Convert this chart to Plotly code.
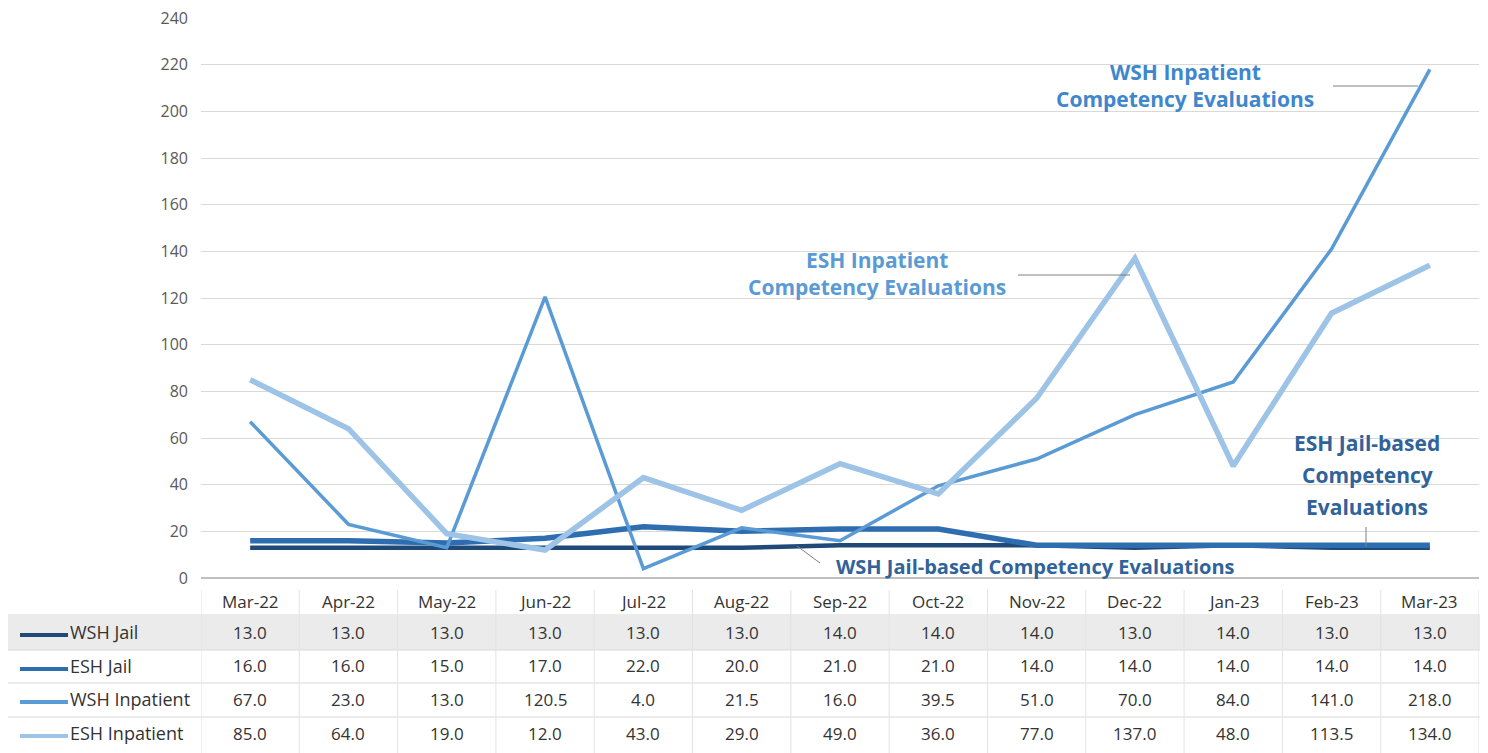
import plotly.graph_objects as go

months = ["Mar-22", "Apr-22", "May-22", "Jun-22", "Jul-22", "Aug-22", "Sep-22",
          "Oct-22", "Nov-22", "Dec-22", "Jan-23", "Feb-23", "Mar-23"]
wsh_jail = [13.0, 13.0, 13.0, 13.0, 13.0, 13.0, 14.0, 14.0, 14.0, 13.0, 14.0, 13.0, 13.0]
esh_jail = [16.0, 16.0, 15.0, 17.0, 22.0, 20.0, 21.0, 21.0, 14.0, 14.0, 14.0, 14.0, 14.0]
wsh_inpatient = [67.0, 23.0, 13.0, 120.5, 4.0, 21.5, 16.0, 39.5, 51.0, 70.0, 84.0, 141.0, 218.0]
esh_inpatient = [85.0, 64.0, 19.0, 12.0, 43.0, 29.0, 49.0, 36.0, 77.0, 137.0, 48.0, 113.5, 134.0]
series_names = ["WSH Jail", "ESH Jail", "WSH Inpatient", "ESH Inpatient"]
y_ticks = [0, 20, 40, 60, 80, 100, 120, 140, 160, 180, 200, 220, 240]

colors = ["#1F4A78", "#2E6DB0", "#5B9BD5", "#9DC3E6"]
widths = [4.5, 5.5, 3.5, 5.5]
series = [wsh_jail, esh_jail, wsh_inpatient, esh_inpatient]

OFF = 8  # browser body margin
W, H = 1488 - OFF, 753 - OFF
# reference-pixel geometry of the plot area
REF_L, REF_R, REF_T, REF_B = 201, 1479, 18, 578
L, T = REF_L - OFF, REF_T - OFF
R = W - (REF_R - OFF)
B = H - (REF_B - OFF)
PW, PH = W - L - R, H - T - B
FONT = "Open Sans"


def px_x(px):
    return (px - REF_L) / PW


def px_y(py):
    return (REF_B - py) / PH


fig = go.Figure()
for i in range(4):
    fig.add_trace(go.Scatter(
        x=list(range(len(months))), y=series[i], mode="lines", name=series_names[i],
        line=dict(color=colors[i], width=widths[i]), showlegend=False, hoverinfo="x+y"))

shapes = []
annotations = []

# table: row background for first row
shapes.append(dict(type="rect", xref="paper", yref="paper",
                   x0=px_x(8), x1=px_x(1482), y0=px_y(614), y1=px_y(650),
                   fillcolor="#EBEBEB", line=dict(width=0), layer="below"))
# horizontal separators
for py in [650, 683, 717]:
    shapes.append(dict(type="line", xref="paper", yref="paper",
                       x0=px_x(8), x1=px_x(1482), y0=px_y(py), y1=px_y(py),
                       line=dict(color="#D9D9D9", width=1)))
# vertical separators at category boundaries
for k in range(len(months) + 1):
    shapes.append(dict(type="line", xref="x", yref="paper",
                       x0=k - 0.5, x1=k - 0.5, y0=px_y(590), y1=px_y(753),
                       line=dict(color="#E3E3E3", width=1)))

row_py = [632, 666, 699, 733]
cell_font = dict(size=17, color="#333333", family=FONT)
for k, m in enumerate(months):
    annotations.append(dict(x=k, y=px_y(601), xref="x", yref="paper", text=m,
                            showarrow=False, font=cell_font,
                            xanchor="center", yanchor="middle"))
for r, (name, vals) in enumerate(zip(series_names, series)):
    py = row_py[r]
    for k, v in enumerate(vals):
        annotations.append(dict(x=k, y=px_y(py), xref="x", yref="paper", text=f"{v:.1f}",
                                showarrow=False, font=cell_font,
                                xanchor="center", yanchor="middle"))
    annotations.append(dict(x=px_x(68), y=px_y(py), xref="paper", yref="paper", text=name,
                            showarrow=False, font=dict(size=18, color="#333333", family=FONT),
                            xanchor="left", yanchor="middle"))
    shapes.append(dict(type="line", xref="paper", yref="paper",
                       x0=px_x(20), x1=px_x(68), y0=px_y(py + 3), y1=px_y(py + 3),
                       line=dict(color=colors[r], width=4)))

# callout labels
def label(text, cx, cy, color, size=21):
    annotations.append(dict(x=px_x(cx), y=px_y(cy), xref="paper", yref="paper",
                            text=f"<b>{text}</b>", showarrow=False,
                            font=dict(color=color, size=size, family=FONT), align="center",
                            xanchor="center", yanchor="middle"))


label("WSH Inpatient", 1185, 72, "#3F87CC")
label("Competency Evaluations", 1185, 99, "#3F87CC")
label("ESH Inpatient", 877, 260, "#5B9BD5")
label("Competency Evaluations", 877, 287, "#5B9BD5")
label("ESH Jail-based", 1367, 443, "#2F6399")
label("Competency", 1367, 475, "#2F6399")
label("Evaluations", 1367, 507, "#2F6399")
label("WSH Jail-based Competency Evaluations", 1035, 566, "#2F6399", size=20)

# leader lines
for (x0, y0, x1, y1) in [(1333, 86, 1418, 86), (1018, 275, 1130, 275),
                         (1366, 527, 1366, 547), (797, 546, 820, 563)]:
    shapes.append(dict(type="line", xref="paper", yref="paper",
                       x0=px_x(x0), x1=px_x(x1), y0=px_y(y0), y1=px_y(y1),
                       line=dict(color="#808080", width=1)))

fig.update_layout(
    width=W, height=H,
    margin=dict(l=L, r=R, t=T, b=B, autoexpand=False),
    plot_bgcolor="white", paper_bgcolor="white",
    shapes=shapes, annotations=annotations,
    xaxis=dict(range=[-0.5, len(months) - 0.5], showticklabels=False, showgrid=False,
               zeroline=False, showline=False, fixedrange=True, automargin=False),
    yaxis=dict(range=[0, 240], tickvals=y_ticks, showgrid=True, gridcolor="#D9D9D9",
               gridwidth=1, zeroline=True, zerolinecolor="#BFBFBF", showline=False,
               tickfont=dict(size=16, color="#595959", family=FONT), ticks="",
               ticklabelstandoff=12, ticklabeloverflow="allow", automargin=False),
)

fig.write_html("out.html")
